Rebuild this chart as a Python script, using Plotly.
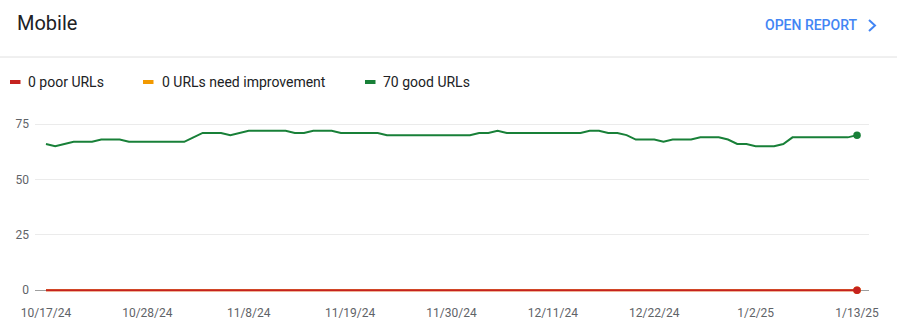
import pandas as pd
import plotly.graph_objects as go

# ---------------- data ----------------
start_date = "2024-10-17"
good_urls = [66, 65, 66, 67, 67, 67, 68, 68, 68, 67,
             67, 67, 67, 67, 67, 67, 69, 71, 71, 71,
             70, 71, 72, 72, 72, 72, 72, 71, 71, 72,
             72, 72, 71, 71, 71, 71, 71, 70, 70, 70,
             70, 70, 70, 70, 70, 70, 70, 71, 71, 72,
             71, 71, 71, 71, 71, 71, 71, 71, 71, 72,
             72, 71, 71, 70, 68, 68, 68, 67, 68, 68,
             68, 69, 69, 69, 68, 66, 66, 65, 65, 65,
             66, 69, 69, 69, 69, 69, 69, 69, 70]
poor_urls = [0] * len(good_urls)
need_improvement_urls = [0] * len(good_urls)
series_labels = ["poor URLs", "URLs need improvement", "good URLs"]
series_colors = ["#c5221f", "#f29900", "#188038"]
y_ticks = [0, 25, 50, 75]
tick_every = 11

dates = pd.date_range(start_date, periods=len(good_urls), freq="D")
tick_dates = list(dates[::tick_every])
tick_text = [f"{d.month}/{d.day}/{d.year % 100}" for d in tick_dates]

# ---------------- layout geometry (pixels) ----------------
FW, FH = 897, 335
L, R, T, B = 35, 28, 113, 36
PW, PH = FW - L - R, FH - T - B


def px(x):
    return (x - L) / PW


def py(y):
    return (T + PH - y) / PH


fig = go.Figure()

series = [need_improvement_urls, poor_urls, good_urls]
order = [1, 0, 2]  # indices into labels/colors: orange, red, green
for vals, idx in zip(series, order):
    fig.add_trace(go.Scatter(
        x=dates, y=vals, mode="lines",
        line=dict(color=series_colors[idx], width=2),
        name=series_labels[idx], showlegend=False, hoverinfo="skip"))
    fig.add_trace(go.Scatter(
        x=[dates[-1]], y=[vals[-1]], mode="markers",
        marker=dict(color=series_colors[idx], size=7.5),
        showlegend=False, hoverinfo="skip"))

day = pd.Timedelta(days=1)
x_range = [dates[0] - 1.19 * day, dates[-1] + 1.3 * day]

fig.update_xaxes(
    range=x_range, tickvals=tick_dates, ticktext=tick_text,
    showgrid=False, zeroline=False, showline=False, ticks="",
    tickfont=dict(family="Roboto", size=12, color="#5f6368"),
    ticklabelstandoff=5)
fig.update_yaxes(
    range=[-4, 80], tickvals=y_ticks, showgrid=True, gridcolor="#ebebeb",
    gridwidth=1, zeroline=True, zerolinecolor="#9e9e9e", zerolinewidth=1,
    showline=False, ticks="",
    tickfont=dict(family="Roboto", size=12, color="#5f6368"),
    ticklabelstandoff=5)

annotations = [
    dict(text="Mobile", x=px(15), y=py(23), xref="paper", yref="paper",
         xanchor="left", yanchor="middle", showarrow=False,
         font=dict(family="Roboto", size=20, color="#202124")),
    dict(text="OPEN REPORT", x=px(860), y=py(25), xref="paper", yref="paper",
         xanchor="right", yanchor="middle", showarrow=False,
         font=dict(family="Roboto", size=14, color="#4285f4", weight=500)),
]

last_values = [poor_urls[-1], need_improvement_urls[-1], good_urls[-1]]
legend_dash_x = [9, 142, 364]
legend_text_x = [26, 160, 381]
legend_y = 82
shapes = [
    dict(type="line", xref="paper", yref="paper", x0=px(0), x1=px(FW),
         y0=py(57), y1=py(57), line=dict(color="#e0e0e0", width=1)),
    dict(type="path", xref="paper", yref="paper",
         path=f"M {px(869)},{py(20)} L {px(875)},{py(25.5)} L {px(869)},{py(31)}",
         line=dict(color="#4285f4", width=2)),
]
for i in range(3):
    annotations.append(dict(
        text=f"{last_values[i]} {series_labels[i]}",
        x=px(legend_text_x[i]), y=py(legend_y), xref="paper", yref="paper",
        xanchor="left", yanchor="middle", showarrow=False,
        font=dict(family="Roboto", size=14, color="#202124")))
    shapes.append(dict(
        type="line", xref="paper", yref="paper",
        x0=px(legend_dash_x[i] + 1), x1=px(legend_dash_x[i] + 11.5),
        y0=py(legend_y), y1=py(legend_y),
        line=dict(color=series_colors[i], width=4)))

fig.update_layout(
    width=FW, height=FH,
    margin=dict(l=L, r=R, t=T, b=B),
    paper_bgcolor="white", plot_bgcolor="white",
    showlegend=False,
    annotations=annotations, shapes=shapes,
    font=dict(family="Roboto"))

fig.write_html("out.html")
